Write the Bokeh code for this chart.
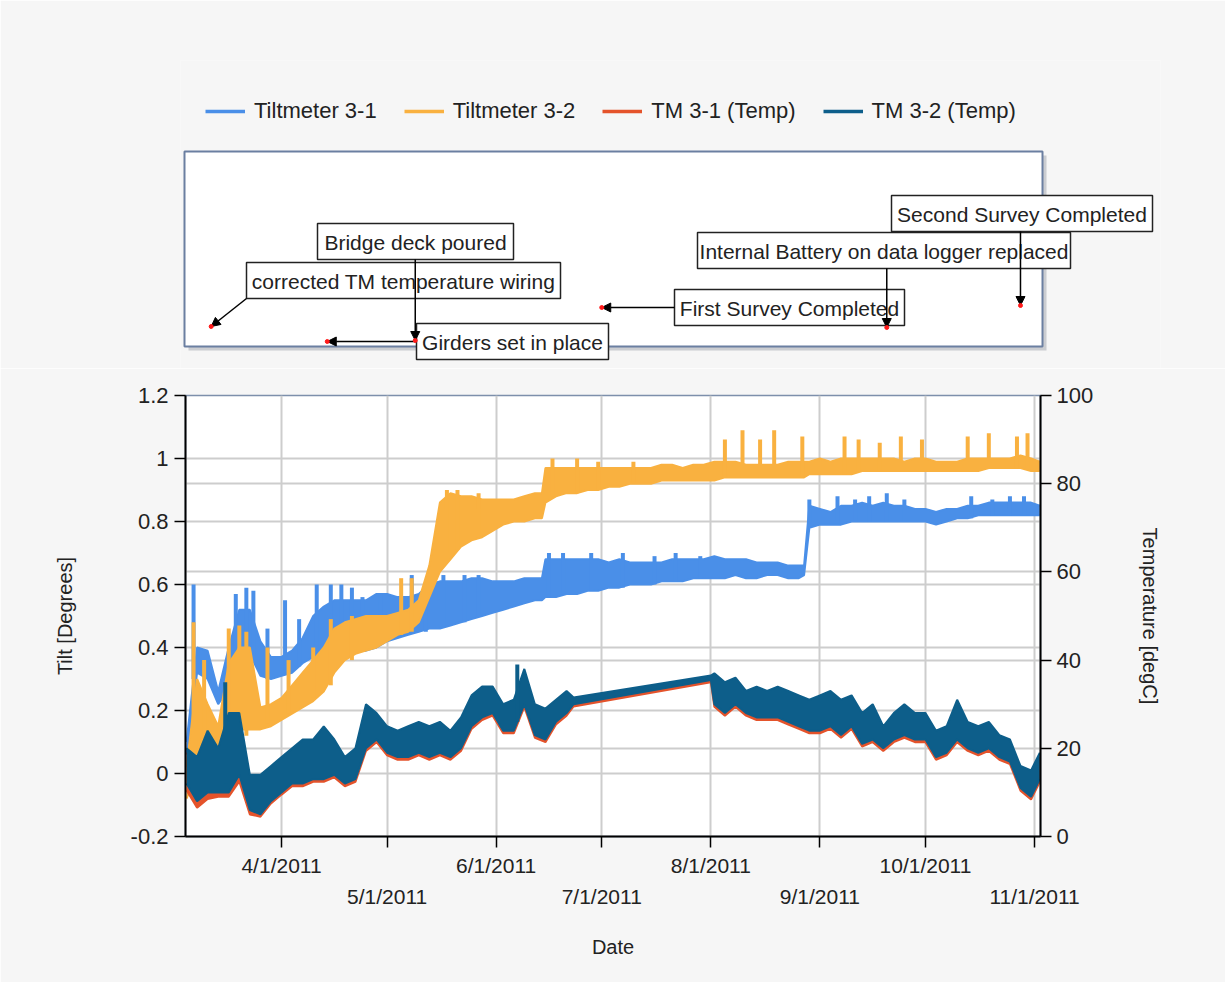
import pandas as pd
from bokeh.plotting import figure
from bokeh.layouts import column
from bokeh.models import (Range1d, LinearAxis, FixedTicker, Legend, LegendItem, Grid,
                          Arrow, NormalHead, CustomJSTickFormatter)
from bokeh.embed import file_html
from bokeh.resources import INLINE
from bokeh.core.properties import value

FONT = "Liberation Sans"
TXT = "#222222"
BG = "#f6f6f6"

# ------------------------------------------------------------------ data
series_names = ["Tiltmeter 3-1", "Tiltmeter 3-2", "TM 3-1 (Temp)", "TM 3-2 (Temp)"]
series_colors = ["#4a8fe8", "#f9b140", "#e4532b", "#0d5e8a"]

tilt_dates = [
    "2011-03-05", "2011-03-08", "2011-03-11", "2011-03-14", "2011-03-17", "2011-03-20", "2011-03-23", "2011-03-26", "2011-03-29",
    "2011-04-01", "2011-04-04", "2011-04-07", "2011-04-10", "2011-04-13", "2011-04-16", "2011-04-19", "2011-04-22", "2011-04-25", "2011-04-28",
    "2011-05-01", "2011-05-04", "2011-05-07", "2011-05-10", "2011-05-13", "2011-05-16", "2011-05-19", "2011-05-22", "2011-05-25", "2011-05-28", "2011-05-31",
    "2011-06-03", "2011-06-06", "2011-06-09", "2011-06-12", "2011-06-14", "2011-06-15", "2011-06-18", "2011-06-21", "2011-06-24", "2011-06-27", "2011-06-30",
    "2011-07-03", "2011-07-06", "2011-07-09", "2011-07-12", "2011-07-15", "2011-07-18", "2011-07-21", "2011-07-24", "2011-07-27", "2011-07-30",
    "2011-08-02", "2011-08-05", "2011-08-08", "2011-08-11", "2011-08-14", "2011-08-17", "2011-08-20", "2011-08-23", "2011-08-26", "2011-08-27 12:00", "2011-08-29",
    "2011-09-01", "2011-09-04", "2011-09-07", "2011-09-10", "2011-09-13", "2011-09-16", "2011-09-19", "2011-09-22", "2011-09-25", "2011-09-28",
    "2011-10-01", "2011-10-04", "2011-10-07", "2011-10-10", "2011-10-13", "2011-10-16", "2011-10-19", "2011-10-22", "2011-10-25", "2011-10-28", "2011-10-31",
    "2011-11-02 12:00",
]

# Tiltmeter 3-1 (degrees): lower / upper edge of the noisy band
tilt31_lo = [0.06, 0.32, 0.30, 0.22, 0.27, 0.38, 0.38, 0.31, 0.30,
             0.31, 0.32, 0.35, 0.37, 0.38, 0.38, 0.38, 0.39, 0.39, 0.40,
             0.42, 0.43, 0.44, 0.45, 0.46, 0.46, 0.47, 0.48, 0.49, 0.50, 0.51,
             0.52, 0.53, 0.54, 0.55, 0.55, 0.56, 0.56, 0.57, 0.57, 0.58, 0.58,
             0.59, 0.59, 0.60, 0.60, 0.60, 0.61, 0.61, 0.61, 0.62, 0.62,
             0.62, 0.62, 0.63, 0.62, 0.62, 0.63, 0.63, 0.62, 0.62, 0.63, 0.78,
             0.79, 0.79, 0.79, 0.80, 0.80, 0.80, 0.80, 0.80, 0.80, 0.80,
             0.80, 0.79, 0.80, 0.81, 0.81, 0.82, 0.82, 0.82, 0.82, 0.82, 0.82,
             0.82]
tilt31_hi = [0.10, 0.40, 0.39, 0.26, 0.40, 0.52, 0.52, 0.42, 0.37,
             0.37, 0.39, 0.43, 0.50, 0.53, 0.55, 0.55, 0.55, 0.55, 0.57,
             0.57, 0.56, 0.56, 0.57, 0.60, 0.61, 0.61, 0.61, 0.62, 0.62, 0.61,
             0.61, 0.61, 0.62, 0.62, 0.62, 0.68, 0.68, 0.68, 0.68, 0.68, 0.68,
             0.67, 0.68, 0.67, 0.67, 0.67, 0.67, 0.68, 0.68, 0.68, 0.68,
             0.69, 0.68, 0.68, 0.68, 0.67, 0.67, 0.67, 0.66, 0.66, 0.66, 0.85,
             0.84, 0.83, 0.85, 0.85, 0.86, 0.85, 0.86, 0.85, 0.85, 0.84,
             0.84, 0.83, 0.84, 0.84, 0.85, 0.85, 0.86, 0.86, 0.86, 0.86, 0.86,
             0.85]

# Tiltmeter 3-2 (degrees)
tilt32_lo = [-0.08, 0.00, 0.00, 0.00, 0.10, 0.14, 0.14, 0.14, 0.15,
             0.17, 0.19, 0.21, 0.23, 0.26, 0.32, 0.36, 0.38, 0.39, 0.40,
             0.42, 0.44, 0.45, 0.48, 0.56, 0.64, 0.68, 0.72, 0.74, 0.75, 0.77,
             0.79, 0.80, 0.80, 0.81, 0.81, 0.86, 0.88, 0.89, 0.89, 0.90, 0.90,
             0.91, 0.91, 0.92, 0.92, 0.92, 0.93, 0.93, 0.93, 0.93, 0.93,
             0.93, 0.94, 0.94, 0.94, 0.94, 0.94, 0.94, 0.94, 0.94, 0.94, 0.95,
             0.95, 0.95, 0.95, 0.95, 0.96, 0.96, 0.96, 0.96, 0.96, 0.96,
             0.96, 0.96, 0.96, 0.96, 0.96, 0.96, 0.97, 0.97, 0.97, 0.97, 0.96,
             0.96]
tilt32_hi = [0.02, 0.30, 0.22, 0.15, 0.35, 0.40, 0.40, 0.21, 0.22,
             0.24, 0.28, 0.32, 0.36, 0.40, 0.46, 0.48, 0.49, 0.50, 0.50,
             0.50, 0.51, 0.52, 0.55, 0.66, 0.86, 0.89, 0.88, 0.88, 0.87, 0.87,
             0.87, 0.87, 0.88, 0.89, 0.89, 0.97, 0.97, 0.97, 0.97, 0.97, 0.97,
             0.97, 0.97, 0.97, 0.97, 0.97, 0.98, 0.98, 0.97, 0.98, 0.98,
             0.99, 0.99, 0.99, 0.98, 0.98, 0.98, 0.98, 0.99, 0.99, 0.99, 0.99,
             1.00, 0.99, 1.00, 1.00, 1.00, 1.00, 1.00, 1.00, 0.99, 1.00,
             1.00, 0.99, 0.99, 0.99, 1.00, 1.00, 1.00, 1.00, 1.00, 1.01, 1.00,
             0.99]

# short spikes of the tilt readings: date, band value, peak
tilt31_spike_dates = ["2011-03-07", "2011-03-19", "2011-03-22", "2011-03-24", "2011-03-28", "2011-04-02",
                      "2011-04-06", "2011-04-11", "2011-04-15", "2011-04-18", "2011-04-21", "2011-04-24",
                      "2011-04-29", "2011-05-08", "2011-05-12", "2011-05-17", "2011-05-23", "2011-05-27",
                      "2011-06-16", "2011-06-20", "2011-06-28", "2011-07-07", "2011-07-16", "2011-07-22",
                      "2011-07-29", "2011-08-29", "2011-09-06", "2011-09-11", "2011-09-15", "2011-09-20",
                      "2011-09-25", "2011-10-14", "2011-10-20", "2011-10-25", "2011-10-29"]
tilt31_spike_lo = [0.30, 0.40, 0.40, 0.35, 0.30, 0.32, 0.34, 0.38, 0.39, 0.39, 0.39, 0.40,
                   0.42, 0.45, 0.45, 0.47, 0.48, 0.50, 0.56, 0.57, 0.58, 0.59, 0.60, 0.61,
                   0.62, 0.80, 0.80, 0.80, 0.80, 0.80, 0.80, 0.81, 0.82, 0.82, 0.82]
tilt31_spike_hi = [0.60, 0.57, 0.59, 0.58, 0.46, 0.55, 0.49, 0.60, 0.60, 0.60, 0.59, 0.56,
                   0.57, 0.63, 0.60, 0.63, 0.63, 0.63, 0.70, 0.70, 0.70, 0.70, 0.69, 0.70,
                   0.69, 0.87, 0.88, 0.87, 0.88, 0.89, 0.87, 0.88, 0.87, 0.88, 0.88]

tilt32_spike_dates = ["2011-03-07", "2011-03-10", "2011-03-17", "2011-03-20", "2011-03-22", "2011-03-28",
                      "2011-04-03", "2011-04-10", "2011-04-15", "2011-04-21", "2011-05-05", "2011-05-08",
                      "2011-05-18", "2011-05-21", "2011-05-27", "2011-06-17", "2011-06-24", "2011-06-30",
                      "2011-07-10", "2011-08-05", "2011-08-10", "2011-08-15", "2011-08-19", "2011-08-27",
                      "2011-09-08", "2011-09-12", "2011-09-18", "2011-09-24", "2011-09-30", "2011-10-13",
                      "2011-10-19", "2011-10-27", "2011-10-30"]
tilt32_spike_lo = [0.00, 0.05, 0.10, 0.12, 0.12, 0.16, 0.19, 0.24, 0.28, 0.36, 0.44, 0.45,
                   0.70, 0.71, 0.75, 0.88, 0.89, 0.90, 0.92, 0.94, 0.94, 0.94, 0.94, 0.94,
                   0.95, 0.96, 0.96, 0.96, 0.96, 0.96, 0.97, 0.97, 0.97]
tilt32_spike_hi = [0.48, 0.36, 0.46, 0.47, 0.45, 0.40, 0.36, 0.40, 0.49, 0.50, 0.62, 0.62,
                   0.90, 0.90, 0.89, 1.00, 1.00, 0.99, 0.99, 1.06, 1.09, 1.06, 1.09, 1.07,
                   1.07, 1.06, 1.05, 1.07, 1.06, 1.07, 1.08, 1.07, 1.08]

temp_dates = [
    "2011-03-05", "2011-03-08", "2011-03-11", "2011-03-14", "2011-03-17", "2011-03-20", "2011-03-23", "2011-03-26", "2011-03-29",
    "2011-04-01", "2011-04-04", "2011-04-07", "2011-04-10", "2011-04-13", "2011-04-16", "2011-04-19", "2011-04-22", "2011-04-25", "2011-04-28",
    "2011-05-01", "2011-05-04", "2011-05-07", "2011-05-10", "2011-05-13", "2011-05-16", "2011-05-19", "2011-05-22", "2011-05-25", "2011-05-28", "2011-05-31",
    "2011-06-03", "2011-06-06", "2011-06-09", "2011-06-12", "2011-06-15", "2011-06-18", "2011-06-21", "2011-06-23",
    "2011-08-01", "2011-08-02", "2011-08-05", "2011-08-08", "2011-08-11", "2011-08-14", "2011-08-17", "2011-08-20", "2011-08-23", "2011-08-26", "2011-08-29",
    "2011-09-01", "2011-09-04", "2011-09-07", "2011-09-10", "2011-09-13", "2011-09-16", "2011-09-19", "2011-09-22", "2011-09-25", "2011-09-28",
    "2011-10-01", "2011-10-04", "2011-10-07", "2011-10-10", "2011-10-13", "2011-10-16", "2011-10-19", "2011-10-22", "2011-10-25", "2011-10-28", "2011-10-31",
    "2011-11-02 12:00",
]
# TM 3-2 temperature (degC)
temp32_lo = [12, 8, 10, 10, 10, 14, 6, 5, 8,
             10, 12, 12, 13, 13, 14, 12, 13, 20, 22,
             19, 18, 18, 19, 18, 19, 18, 20, 25, 27, 28,
             24, 24, 30, 23, 22, 26, 28, 30,
             35.5, 30, 28, 30, 28, 27, 27, 27, 26, 25, 24,
             24, 25, 23, 25, 21, 22, 20, 22, 23, 22,
             22, 18, 19, 22, 20, 19, 20, 18, 17, 11, 9,
             13]
temp32_hi = [20, 18, 24, 20, 28, 28, 14, 14, 16,
             18, 20, 22, 22, 25, 22, 18, 20, 30, 28,
             25, 24, 25, 26, 25, 26, 24, 27, 32, 34, 34,
             30, 31, 38, 30, 29, 31, 33, 31.5,
             36.5, 37, 35, 36, 33, 34, 33, 34, 33, 32, 31,
             32, 33, 31, 32, 28, 30, 25, 28, 30, 28,
             28, 24, 25, 31, 26, 25, 26, 23, 22, 16, 15,
             19]
# TM 3-1 temperature (degC), mostly hidden under TM 3-2
temp31_lo = [10.5, 6.5, 8.5, 9, 9, 12.5, 5, 4.5, 7.5,
             9.5, 11.4, 11.4, 12.4, 12.4, 13.4, 11.4, 12.4, 19.4, 21.4,
             18.4, 17.4, 17.4, 18.4, 17.4, 18.4, 17.4, 19.4, 24.4, 26.4, 27.4,
             23.4, 23.4, 29.4, 22.4, 21.4, 25.4, 27.4, 29.5,
             35, 29.4, 27.4, 29.4, 27.4, 26.4, 26.4, 26.4, 25.4, 24.4, 23.4,
             23.4, 24.4, 22.4, 24.4, 20.4, 21.4, 19.4, 21.4, 22.4, 21.4,
             21.4, 17.4, 18.4, 21.4, 19.4, 18.4, 19.4, 17.4, 16.4, 10.4, 8.4,
             12.4]
temp31_hi = [19, 17, 23, 19, 27, 27, 13, 13, 15,
             17, 19, 21, 21, 24, 21, 17, 19, 29, 27,
             24, 23, 24, 25, 24, 25, 23, 26, 31, 33, 33,
             29, 30, 37, 29, 28, 30, 32, 30.5,
             35.5, 36, 34, 35, 32, 33, 32, 33, 32, 31, 30,
             31, 32, 30, 31, 27, 29, 24, 27, 29, 27,
             27, 23, 24, 30, 25, 24, 25, 22, 21, 15, 14,
             18]
temp32_spike_dates = ["2011-03-16", "2011-06-07"]
temp32_spike_lo = [12, 26]
temp32_spike_hi = [35, 39]

tilt_ticks = [-0.2, 0.0, 0.2, 0.4, 0.6, 0.8, 1.0, 1.2]
tilt_tick_labels = ["-0.2", "0", "0.2", "0.4", "0.6", "0.8", "1", "1.2"]
temp_ticks = [0, 20, 40, 60, 80, 100]
month_ticks = ["2011-04-01", "2011-05-01", "2011-06-01", "2011-07-01",
               "2011-08-01", "2011-09-01", "2011-10-01", "2011-11-01"]
month_labels = ["4/1/2011", "5/1/2011", "6/1/2011", "7/1/2011",
                "8/1/2011", "9/1/2011", "10/1/2011", "11/1/2011"]

event_labels = ["corrected TM temperature wiring", "Girders set in place", "Bridge deck poured",
                "First Survey Completed", "Internal Battery on data logger replaced", "Second Survey Completed"]
event_dates = ["2011-03-12", "2011-04-14", "2011-05-09", "2011-07-01", "2011-09-20", "2011-10-28"]
event_levels = [22, 7, 8, 41, 21, 43]

assert len(tilt_dates) == len(tilt31_lo) == len(tilt31_hi) == len(tilt32_lo) == len(tilt32_hi)
assert len(temp_dates) == len(temp32_lo) == len(temp32_hi) == len(temp31_lo) == len(temp31_hi)
assert len(tilt31_spike_dates) == len(tilt31_spike_lo) == len(tilt31_spike_hi)
assert len(tilt32_spike_dates) == len(tilt32_spike_lo) == len(tilt32_spike_hi)


def ms(s):
    return pd.Timestamp(s).value / 1e6


def dt(lst):
    return pd.to_datetime(lst, format="mixed").values


# ------------------------------------------------------------------ geometry (page px)
W = 1225
H_TOP = 368
X0 = ms("2011-03-04 17:00")
X1 = ms("2011-11-02 16:30")
K = (X1 - X0) / 855.0          # ms per px of the main frame (page x 185..1040)


def pxx(px):
    return X0 + (px - 185) * K


def pyy(py):
    return 348 - py


# ------------------------------------------------------------------ top panel (legend + events)
top = figure(width=W, height=H_TOP, x_range=Range1d(pxx(180), pxx(1160)),
             y_range=Range1d(pyy(368), pyy(60)), output_backend="svg", toolbar_location=None,
             x_axis_location=None, y_axis_location=None,
             min_border_left=180, min_border_right=W - 1160, min_border_top=60, min_border_bottom=0)
top.frame_align = False
top.background_fill_color = BG
top.border_fill_color = BG
top.outline_line_color = None
top.grid.visible = False

# panel box with shadow
top.quad(left=[pxx(188)], right=[pxx(1046)], top=[pyy(155)], bottom=[pyy(350)],
         fill_color="#b9bcc2", fill_alpha=0.7, line_color=None)
top.quad(left=[pxx(184)], right=[pxx(1042)], top=[pyy(151)], bottom=[pyy(346)],
         fill_color="white", line_color="#6b7fa1", line_width=2)

box_px = {
    "corrected TM temperature wiring": (246, 262, 560, 298),
    "Bridge deck poured": (317, 223, 513, 259),
    "Girders set in place": (416, 323, 608, 359),
    "First Survey Completed": (674, 289, 904, 325),
    "Internal Battery on data logger replaced": (697, 232, 1070, 268),
    "Second Survey Completed": (891, 195, 1152, 231),
}
arrow_start_px = {
    "corrected TM temperature wiring": (246, 298),
    "Bridge deck poured": (None, 259),
    "Girders set in place": (416, 341),
    "First Survey Completed": (674, 307),
    "Internal Battery on data logger replaced": (None, 268),
    "Second Survey Completed": (None, 231),
}

order = ["corrected TM temperature wiring", "Bridge deck poured", "Girders set in place",
         "First Survey Completed", "Internal Battery on data logger replaced", "Second Survey Completed"]
bl, br, bt, bb, cx, cy = [], [], [], [], [], []
for lab in order:
    l, t, r, b = box_px[lab]
    bl.append(pxx(l)); br.append(pxx(r)); bt.append(pyy(t)); bb.append(pyy(b))
    cx.append(pxx((l + r) / 2)); cy.append(pyy((t + b) / 2 + 1))
top.quad(left=bl, right=br, top=bt, bottom=bb, fill_color="white", line_color="#222222", line_width=1.5)
top.text(x=cx, y=cy, text=order, text_align="center", text_baseline="middle",
         text_font=value(FONT), text_font_size="21px", text_color=TXT)

ev_ms = [ms(d) for d in event_dates]
for lab, ex, ey in zip(event_labels, ev_ms, event_levels):
    sx, sy = arrow_start_px[lab]
    xs = ex if sx is None else pxx(sx)
    top.add_layout(Arrow(end=NormalHead(size=9, fill_color="black", line_color="black"),
                         x_start=xs, y_start=pyy(sy), x_end=ex, y_end=ey,
                         line_color="black", line_width=1.5))
top.scatter(x=ev_ms, y=event_levels, size=4, color="#ff1a1a", level="overlay")

# legend samples (drawn off-frame; only their legend glyphs are visible)
leg_r = [top.line(x=[pxx(-200), pxx(-190)], y=[0, 0], line_color=c, line_width=3.5) for c in series_colors]
legend = Legend(items=[LegendItem(label=n, renderers=[r]) for n, r in zip(series_names, leg_r)],
                orientation="horizontal", location=(25, 244), glyph_width=40, glyph_height=20,
                label_standoff=9, spacing=27, padding=0, margin=0,
                border_line_color=None, background_fill_alpha=0,
                label_text_font=FONT, label_text_font_size="22px", label_text_color=TXT)
top.add_layout(legend)

# ------------------------------------------------------------------ main chart
H_MAIN = 982 - H_TOP
p = figure(width=W, height=H_MAIN, x_range=Range1d(X0, X1), y_range=Range1d(-0.2, 1.2),
           output_backend="svg", toolbar_location=None,
           x_axis_location=None, y_axis_location=None,
           min_border_left=185, min_border_right=W - 1040, min_border_top=27, min_border_bottom=146)
p.frame_align = False
p.grid.visible = False
p.extra_y_ranges = {"temp": Range1d(0, 100)}
p.background_fill_color = "white"
p.border_fill_color = BG
p.outline_line_color = "#7d8fab"
p.outline_line_width = 1.5


def tick_fmt(vals, labs):
    return CustomJSTickFormatter(args=dict(tvals=vals, tlabs=labs), code="""
        let best = -1, bd = Infinity;
        for (let i = 0; i < tvals.length; i++) {
            const d = Math.abs(tvals[i] - tick);
            if (d < bd) { bd = d; best = i; }
        }
        return best >= 0 ? tlabs[best] : "";
    """)


def style_axis(ax, size="21px"):
    ax.axis_line_color = "black"
    ax.axis_line_width = 2
    ax.major_tick_in = 0
    ax.major_tick_out = 11
    ax.major_tick_line_color = "black"
    ax.major_tick_line_width = 1.5
    ax.minor_tick_line_color = None
    ax.major_label_text_font = FONT
    ax.major_label_text_font_size = size
    ax.major_label_text_color = TXT
    ax.axis_label_text_font = FONT
    ax.axis_label_text_font_size = "20px"
    ax.axis_label_text_font_style = "normal"
    ax.axis_label_text_color = TXT


month_ms = [ms(d) for d in month_ticks]
tilt_ticker = FixedTicker(ticks=tilt_ticks)
temp_ticker = FixedTicker(ticks=temp_ticks)
month_ticker = FixedTicker(ticks=month_ms)

yl = LinearAxis(ticker=tilt_ticker, formatter=tick_fmt(tilt_ticks, tilt_tick_labels),
                axis_label="Tilt [Degrees]")
style_axis(yl, "22px")
yl.major_label_standoff = 6
yl.axis_label_standoff = 52
p.add_layout(yl, "left")

yr = LinearAxis(y_range_name="temp", ticker=temp_ticker,
                formatter=tick_fmt(temp_ticks, [str(t) for t in temp_ticks]),
                axis_label="Temperature [degC]")
style_axis(yr, "22px")
yr.major_label_standoff = 5
yr.axis_label_standoff = 43
p.add_layout(yr, "right")

row1 = [lab if i % 2 == 0 else "" for i, lab in enumerate(month_labels)]
xb1 = LinearAxis(ticker=month_ticker, formatter=tick_fmt(month_ms, row1))
style_axis(xb1)
xb1.major_label_standoff = 6
p.add_layout(xb1, "below")

odd_ms = month_ms[1::2]
xb2 = LinearAxis(ticker=FixedTicker(ticks=odd_ms), formatter=tick_fmt(odd_ms, month_labels[1::2]),
                 axis_label="Date")
style_axis(xb2)
xb2.axis_line_color = None
xb2.major_tick_line_color = None
xb2.major_tick_out = 0
xb2.major_label_standoff = 5
xb2.axis_label_standoff = 25
p.add_layout(xb2, "below")

for g in (Grid(dimension=0, ticker=month_ticker),
          Grid(dimension=1, ticker=tilt_ticker),
          Grid(dimension=1, ticker=temp_ticker, y_range_name="temp")):
    g.grid_line_color = "#cdcdcd"
    g.grid_line_width = 2
    p.add_layout(g)

# series
td = dt(tilt_dates)
tmd = dt(temp_dates)
c31, c32, cT31, cT32 = series_colors

p.varea(x=td, y1=tilt31_lo, y2=tilt31_hi, fill_color=c31)
p.line(x=td, y=tilt31_lo, line_color=c31, line_width=2)
p.line(x=td, y=tilt31_hi, line_color=c31, line_width=2)
sd = dt(tilt31_spike_dates)
p.segment(x0=sd, y0=tilt31_spike_lo, x1=sd, y1=tilt31_spike_hi, line_color=c31, line_width=4)

p.varea(x=td, y1=tilt32_lo, y2=tilt32_hi, fill_color=c32)
p.line(x=td, y=tilt32_lo, line_color=c32, line_width=2)
p.line(x=td, y=tilt32_hi, line_color=c32, line_width=2)
sd = dt(tilt32_spike_dates)
p.segment(x0=sd, y0=tilt32_spike_lo, x1=sd, y1=tilt32_spike_hi, line_color=c32, line_width=4)

p.varea(x=tmd, y1=temp31_lo, y2=temp31_hi, fill_color=cT31, y_range_name="temp")
p.line(x=tmd, y=temp31_lo, line_color=cT31, line_width=2, y_range_name="temp")
p.line(x=tmd, y=temp31_hi, line_color=cT31, line_width=2, y_range_name="temp")

p.varea(x=tmd, y1=temp32_lo, y2=temp32_hi, fill_color=cT32, y_range_name="temp")
p.line(x=tmd, y=temp32_lo, line_color=cT32, line_width=2, y_range_name="temp")
p.line(x=tmd, y=temp32_hi, line_color=cT32, line_width=2, y_range_name="temp")
sd = dt(temp32_spike_dates)
p.segment(x0=sd, y0=temp32_spike_lo, x1=sd, y1=temp32_spike_hi, line_color=cT32, line_width=4,
          y_range_name="temp")

layout = column(top, p, spacing=0)
open("out.html", "w").write(file_html(layout, INLINE))
